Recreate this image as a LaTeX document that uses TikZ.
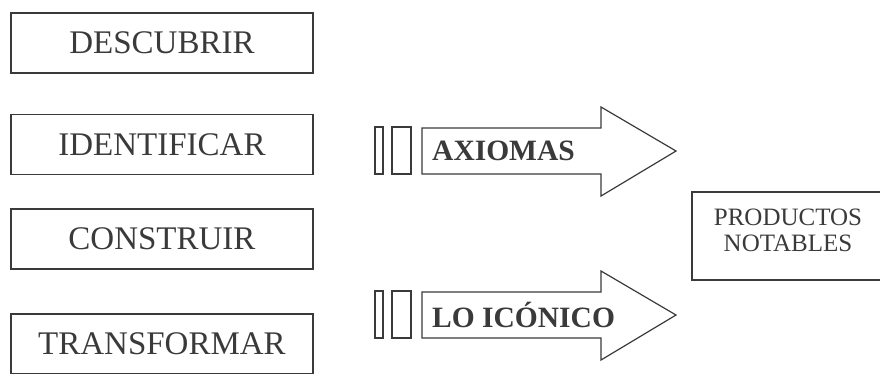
\documentclass[tikz,border=0pt]{standalone}
\usepackage{fontspec}
\setmainfont{Liberation Serif}
\usetikzlibrary{positioning}
\definecolor{tinta}{HTML}{3A3A3A}
\begin{document}
\begin{tikzpicture}[x=1pt,y=-1pt]
    \tikzset{caja/.style={rectangle, draw=tinta, line width=1.2pt, text=tinta, minimum width=302pt, minimum height=60pt, font=\fontsize{33}{35}\selectfont}}
    \tikzset{flecha/.style={draw=tinta, line width=1.2pt}}
    \tikzset{rotulo/.style={text=tinta, anchor=west, inner sep=0pt, font=\fontsize{29.5}{31}\selectfont\bfseries}}
    \clip (0,0) rectangle (880,373);

    \node[caja] (descubrir) at (162,43) {DESCUBRIR};
    \node[caja] (identificar) at (162,144.5) {IDENTIFICAR};
    \node[caja] (construir) at (162,239) {CONSTRUIR};
    \node[caja] (transformar) at (162,344) {TRANSFORMAR};

    \node[caja, minimum width=190pt, minimum height=88pt] (productos) at (787,236) {};
    \node[text=tinta, align=center, font=\fontsize{25}{26}\selectfont] (notables) at (788,230) {PRODUCTOS\\NOTABLES};

    \foreach \y/\nombre/\texto in {151/axiomas/AXIOMAS, 315/iconico/LO ICÓNICO} {
      \draw[flecha] (375,\y-24) rectangle (383,\y+23);
      \draw[flecha] (392,\y-24) rectangle (411,\y+23);
      \draw[flecha] (422,\y-23) -- (601,\y-23) -- (601,\y-44) -- (676,\y)
        -- (601,\y+45) -- (601,\y+23) -- (422,\y+23) -- cycle;
      \node[rotulo] (\nombre) at (432,\y) {\texto};
    }
  \end{tikzpicture}
\end{document}
